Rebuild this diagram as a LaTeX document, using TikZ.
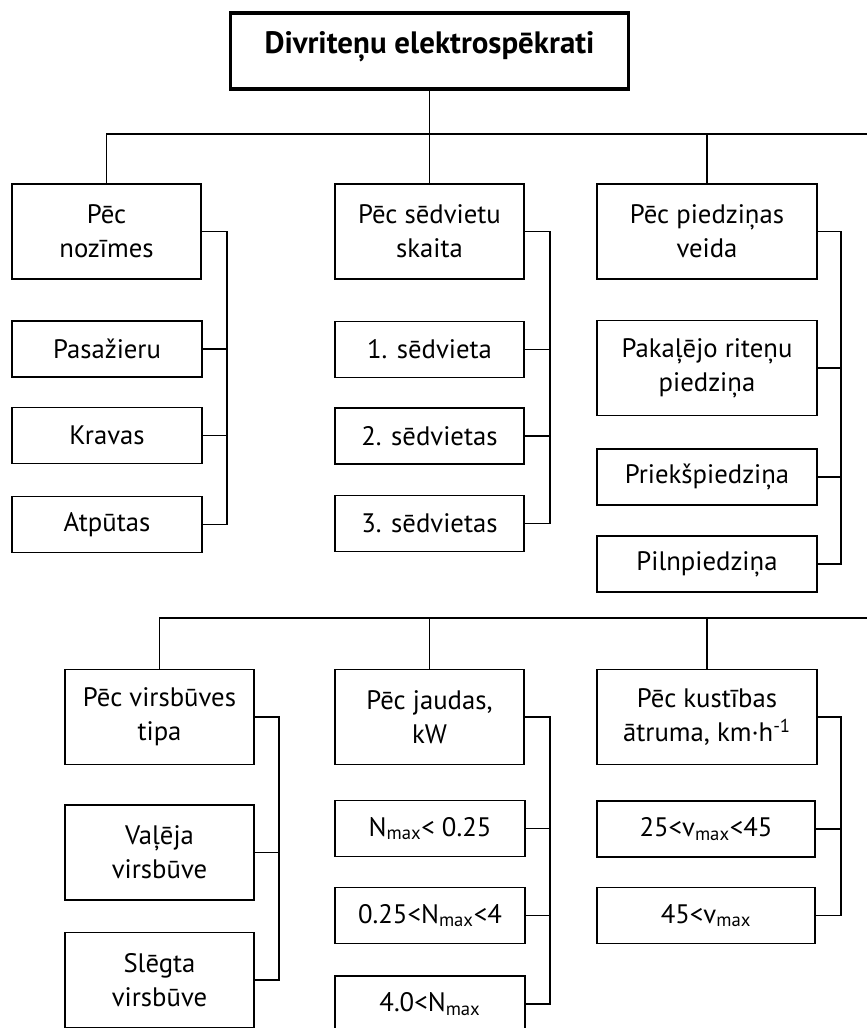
\documentclass[tikz,border=0pt]{standalone}
\usepackage{fontspec}
\setmainfont{PT Sans}
\tikzset{
	box/.style={draw,line width=1.1pt,align=center,inner sep=2pt,font=\fontsize{19}{24}\selectfont},
	bigbox/.style={box,minimum height=2.375cm},
	smallbox/.style={box,minimum height=1.4cm},
	link/.style={line width=1.1pt},
}
\begin{document}
\begin{tikzpicture}[x=0.025cm,y=-0.025cm]
	\useasboundingbox (0,0) rectangle (867,1028);
	% title and first bus
	\node[box,line width=2.2pt,minimum width=9.93cm,minimum height=1.9cm,font=\fontsize{22}{26}\selectfont\bfseries](title)at(429.5,51)
		{\raisebox{0.45cm}{Divriteņu elektrospēkrati}};
	\coordinate(bus1)at(867,134);
	\node[bigbox,minimum width=4.73cm](A)at(106.5,231.5){Pēc\\nozīmes};
	\node[bigbox,minimum width=4.73cm](B)at(429.5,231.5){Pēc sēdvietu\\skaita};
	\node[bigbox,minimum width=5.5cm](C)at(707,231.5){Pēc piedziņas\\veida};
	\draw[link](title.south)--(title.south|-bus1);
	\draw[link](A.north)|-(bus1);
	\foreach \n in {B,C}
		\draw[link](\n.north)--(\n.north|-bus1);
	% first row children
	\coordinate(ra)at(227,0);
	\coordinate(rb)at(550,0);
	\coordinate(rc)at(841,0);
	\foreach \n/\y/\t in {a1/349/Pasažieru,a2/435.5/Kravas,a3/524.5/Atpūtas}
		\node[smallbox,minimum width=4.75cm](\n)at(107,\y){\t};
	\foreach \n/\y/\t in {b1/349.5/1. sēdvieta,b2/436/2. sēdvietas,b3/523.5/3. sēdvietas}
		\node[smallbox,minimum width=4.73cm](\n)at(429.5,\y){\t};
	\node[bigbox,minimum width=5.5cm](c1)at(707,368){Pakaļējo riteņu\\piedziņa};
	\node[smallbox,minimum width=5.5cm](c2)at(707,477){Priekšpiedziņa};
	\node[smallbox,minimum width=5.5cm](c3)at(707,564){Pilnpiedziņa};
	\draw[link](A.east)-|(ra|-a3.east)--(a3.east);
	\draw[link](B.east)-|(rb|-b3.east)--(b3.east);
	\draw[link](C.east)-|(rc|-c3.east)--(c3.east);
	\foreach \n/\r in {a1/ra,a2/ra,b1/rb,b2/rb,c1/rc,c2/rc}
		\draw[link](\n.east)--(\n.east-|\r);
	% second bus
	\coordinate(bus2)at(867,618);
	\node[bigbox,minimum width=4.73cm](D)at(159.5,717){Pēc virsbūves\\tipa};
	\node[bigbox,minimum width=4.73cm](E)at(429.5,717){Pēc jaudas,\\kW};
	\node[bigbox,minimum width=5.5cm](F)at(707,717){Pēc kustības\\ātruma, km·h\textsuperscript{-1}};
	\draw[link](D.north)|-(bus2);
	\foreach \n in {E,F}
		\draw[link](\n.north)--(\n.north|-bus2);
	% second row children
	\coordinate(rd)at(279,0);
	\node[bigbox,minimum width=4.73cm](d1)at(159.5,852.5){Vaļēja\\virsbūve};
	\node[bigbox,minimum width=4.73cm](d2)at(159.5,980){Slēgta\\virsbūve};
	\node[smallbox,minimum width=4.75cm](e1)at(430,828.5){N\textsubscript{max}< 0.25};
	\node[smallbox,minimum width=4.75cm](e2)at(430,915.5){0.25<N\textsubscript{max}<4};
	\node[smallbox,minimum width=4.75cm](e3)at(430,1004){4.0<N\textsubscript{max}};
	\node[smallbox,minimum width=5.45cm](f1)at(706,829){25<v\textsubscript{max}<45};
	\node[smallbox,minimum width=5.45cm](f2)at(706,915.5){45<v\textsubscript{max}};
	\draw[link](D.east)-|(rd|-d2.east)--(d2.east);
	\draw[link](E.east)-|(rb|-e3.east)--(e3.east);
	\draw[link](F.east)-|(rc|-f2.east)--(f2.east);
	\foreach \n/\r in {d1/rd,e1/rb,e2/rb,f1/rc}
		\draw[link](\n.east)--(\n.east-|\r);
\end{tikzpicture}
\end{document}
